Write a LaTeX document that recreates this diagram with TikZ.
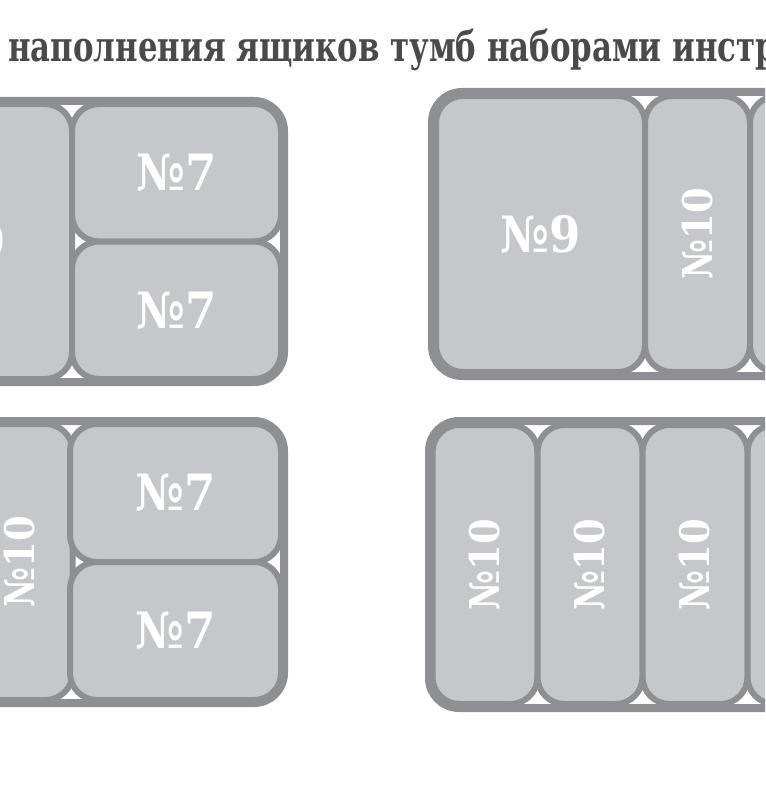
\documentclass[tikz,border=0pt]{standalone}
\usepackage{fontspec}
\setmainfont{DejaVu Serif Condensed}
\newfontfamily\titlefont{DejaVu Serif Condensed}[FakeStretch=0.815]
\usepackage{xcolor}
\usepackage{graphicx}
\usepackage{tikz}

\begin{document}
\begin{tikzpicture}[x=1pt,y=1pt]
    \definecolor{mygrayd}{RGB}{141,143,146}
    \definecolor{mygrayl}{RGB}{197,199,202}
    \definecolor{mytext}{RGB}{74,74,74}

    \tikzstyle{tray}=[rectangle,draw=mygrayd,line width=8pt,fill=white,rounded corners=30pt,inner sep=0pt,outer sep=0pt]  % 托盘外框
    \tikzstyle{cell}=[rectangle,draw=mygrayd,line width=6pt,fill=mygrayl,rounded corners=27pt,inner sep=0pt,outer sep=0pt,text=white,font=\bfseries\fontsize{50}{50}\selectfont]  % 格子
    \tikzstyle{cellv}=[cell,minimum width=105pt,minimum height=276pt,font=\bfseries\fontsize{41}{41}\selectfont]  % 竖排格子

    \useasboundingbox (0,0) rectangle (765,-797);
    \clip (0,0) rectangle (765,-797);

    % 标题
    \node[anchor=base west,inner sep=0pt,text=mytext,font=\titlefont\bfseries\fontsize{42}{42}\selectfont](title) at (8,-62){наполнения ящиков тумб наборами инстр};

    % 左上
    \node[tray,minimum width=534pt,minimum height=281pt](trayA) at (17,-241.5){};
    \node[cell,minimum width=212pt,minimum height=275pt](a1) at (-34,-241.5){№9};
    \node[cell,minimum width=209pt,minimum height=137.5pt](a2) at (176.5,-172.75){№7};
    \node[cell,below of=a2,node distance=137.5pt,minimum width=209pt,minimum height=137.5pt](a3){№7};

    % 右上
    \node[tray,minimum width=534pt,minimum height=284pt](trayB) at (699,-234){};
    \node[cell,minimum width=209pt,minimum height=276pt](b1) at (540.5,-234){№9};
    \node[cellv](b2) at (697.5,-234){\rotatebox{90}{№10}};
    \node[cellv,right of=b2,node distance=105pt](b3){};

    % 左下
    \node[tray,minimum width=534pt,minimum height=282pt](trayC) at (17,-562){};
    \node[cellv](c1) at (20,-562){\rotatebox{90}{№10}};
    \node[cell,minimum width=211pt,minimum height=138pt](c2) at (175.5,-493){№7};
    \node[cell,below of=c2,node distance=138pt,minimum width=211pt,minimum height=138pt](c3){№7};

    % 右下
    \node[tray,minimum width=534pt,minimum height=287pt](trayD) at (696,-564.5){};
    \node[cellv,minimum height=279pt](d1) at (485,-564.5){\rotatebox{90}{№10}};
    \node[cellv,minimum height=279pt,right of=d1,node distance=105pt](d2){\rotatebox{90}{№10}};
    \node[cellv,minimum height=279pt,right of=d2,node distance=105pt](d3){\rotatebox{90}{№10}};
    \node[cellv,minimum height=279pt,right of=d3,node distance=105pt](d4){};
\end{tikzpicture}
\end{document}
